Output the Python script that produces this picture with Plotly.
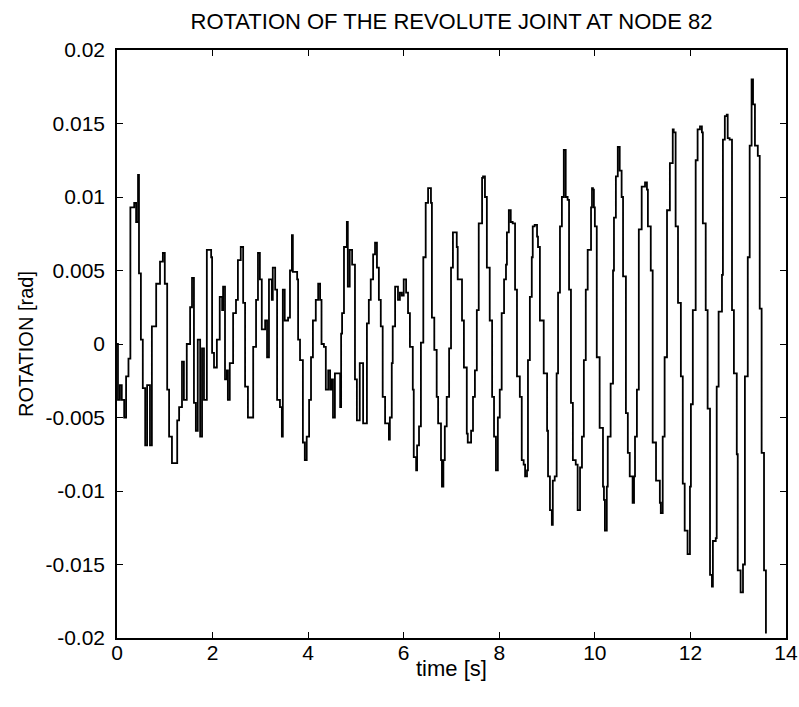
import plotly.graph_objects as go

time_s = [
    0.00, 0.02, 0.06, 0.10, 0.15, 0.19, 0.24, 0.28, 0.36, 0.40, 0.44, 0.46, 0.50, 0.54, 0.59, 0.63,
    0.69, 0.73, 0.82, 0.90, 0.96, 1.00, 1.05, 1.09, 1.15, 1.21, 1.26, 1.30, 1.36, 1.40, 1.46, 1.53,
    1.57, 1.61, 1.65, 1.69, 1.74, 1.78, 1.82, 1.88, 1.97, 1.99, 2.03, 2.09, 2.15, 2.20, 2.22, 2.26,
    2.30, 2.32, 2.36, 2.43, 2.49, 2.53, 2.59, 2.64, 2.68, 2.74, 2.80, 2.85, 2.91, 2.95, 2.99, 3.03,
    3.10, 3.14, 3.18, 3.24, 3.26, 3.31, 3.35, 3.41, 3.45, 3.47, 3.51, 3.58, 3.62, 3.66, 3.68, 3.77,
    3.79, 3.83, 3.89, 3.93, 3.97, 4.02, 4.06, 4.10, 4.16, 4.21, 4.25, 4.28, 4.33, 4.37, 4.42, 4.46,
    4.49, 4.52, 4.56, 4.67, 4.69, 4.71, 4.75, 4.81, 4.83, 4.87, 4.92, 4.98, 5.02, 5.08, 5.15, 5.23,
    5.27, 5.31, 5.36, 5.40, 5.44, 5.48, 5.52, 5.56, 5.61, 5.69, 5.71, 5.75, 5.77, 5.82, 5.88, 5.92,
    5.96, 6.00, 6.05, 6.09, 6.13, 6.19, 6.21, 6.26, 6.28, 6.32, 6.36, 6.41, 6.46, 6.51, 6.57, 6.59,
    6.64, 6.69, 6.72, 6.78, 6.80, 6.83, 6.86, 6.90, 6.95, 6.99, 7.03, 7.07, 7.11, 7.13, 7.22, 7.26,
    7.32, 7.34, 7.41, 7.45, 7.49, 7.53, 7.57, 7.64, 7.66, 7.70, 7.74, 7.80, 7.85, 7.89, 7.93, 7.95,
    7.97, 8.01, 8.05, 8.10, 8.14, 8.16, 8.20, 8.24, 8.28, 8.33, 8.37, 8.43, 8.47, 8.51, 8.54, 8.58,
    8.60, 8.64, 8.68, 8.70, 8.74, 8.79, 8.81, 8.85, 8.93, 9.00, 9.02, 9.06, 9.10, 9.12, 9.16, 9.20,
    9.23, 9.27, 9.31, 9.35, 9.39, 9.43, 9.46, 9.50, 9.54, 9.60, 9.64, 9.69, 9.73, 9.77, 9.81, 9.85,
    9.92, 9.94, 9.96, 9.98, 10.00, 10.04, 10.10, 10.17, 10.19, 10.21, 10.25, 10.27, 10.33, 10.38,
    10.40, 10.44, 10.48, 10.52, 10.56, 10.59, 10.65, 10.69, 10.73, 10.79, 10.82, 10.84, 10.88,
    10.92, 10.98, 11.05, 11.09, 11.11, 11.17, 11.21, 11.28, 11.36, 11.38, 11.42, 11.46, 11.51,
    11.57, 11.63, 11.65, 11.69, 11.74, 11.80, 11.84, 11.88, 11.94, 11.99, 12.01, 12.05, 12.11,
    12.15, 12.20, 12.24, 12.26, 12.32, 12.36, 12.41, 12.45, 12.47, 12.53, 12.55, 12.59, 12.66,
    12.68, 12.72, 12.76, 12.78, 12.82, 12.87, 12.91, 12.97, 12.99, 13.05, 13.10, 13.14, 13.20,
    13.24, 13.28, 13.31, 13.35, 13.41, 13.45, 13.49, 13.54, 13.58,
]

rotation_rad = [
    0.0, -0.0038, -0.0028, -0.0038, -0.005, -0.0022, -0.001, 0.0093, 0.0096, 0.0083, 0.0115, 0.0048, 0.0003, -0.003, -0.0069, -0.0028,
    -0.0069, 0.0012, 0.0041, 0.0056, 0.0062, 0.0041, -0.0031, -0.0063, -0.0081, -0.0081, -0.0052, -0.0043, -0.0012, -0.0038, 0.0, 0.0025,
    0.0045, -0.004, -0.0059, 0.0003, -0.0063, -0.0003, -0.0038, 0.0064, 0.0059, -0.0006, -0.0016, 0.0003, 0.0032, 0.0023, 0.0039, -0.0024,
    -0.0018, -0.0038, -0.0013, 0.0021, 0.003, 0.0057, 0.0066, 0.0028, -0.0029, -0.005, -0.005, -0.0002, 0.003, 0.0062, 0.0044, 0.001,
    0.0016, -0.0009, 0.0044, 0.003, 0.0052, 0.0037, -0.0038, -0.0043, -0.0063, 0.0037, 0.0016, 0.0018, 0.005, 0.0074, 0.0049, 0.0044,
    0.0003, -0.0011, -0.0067, -0.0079, -0.0063, -0.0038, -0.0009, 0.0016, 0.003, 0.0041, 0.003, 0.0, -0.0002, -0.0031, -0.0018, -0.0031,
    -0.0024, -0.005, -0.002, -0.0043, 0.0007, 0.0021, 0.0066, 0.0083, 0.0039, 0.0064, 0.0054, -0.0024, -0.0052, -0.0013, -0.0054, 0.0014,
    0.003, 0.0044, 0.0061, 0.0069, 0.0052, 0.003, 0.0012, -0.0036, -0.0054, -0.0065, -0.005, -0.0013, 0.0012, 0.0039, 0.003, 0.0035,
    0.0033, 0.0044, 0.0035, 0.0021, -0.0002, -0.0031, -0.0077, -0.0086, -0.0069, -0.0056, 0.0001, 0.0059, 0.0096, 0.0106, 0.0096, 0.0018,
    -0.0004, -0.0036, -0.0054, -0.0079, -0.0097, -0.0079, -0.0056, -0.0036, -0.0003, 0.0052, 0.0076, 0.0076, 0.0066, 0.0044, 0.0016, -0.0016,
    -0.0061, -0.0067, -0.0059, -0.0036, -0.0018, 0.0023, 0.0082, 0.0113, 0.0114, 0.01, 0.0052, 0.0016, -0.0036, -0.0063, -0.0086, -0.0086,
    -0.005, -0.0031, 0.0021, 0.0044, 0.0054, 0.0076, 0.0091, 0.0083, 0.0082, 0.0037, -0.0022, -0.0036, -0.0079, -0.0082, -0.009, -0.0086,
    -0.0011, 0.0032, 0.0059, 0.008, 0.0081, 0.0073, 0.0066, 0.0016, -0.002, -0.0059, -0.009, -0.0113, -0.0123, -0.0093, -0.009, -0.002,
    0.0035, 0.008, 0.01, 0.0132, 0.01, 0.0098, 0.0037, -0.004, -0.0079, -0.0082, -0.0113, -0.0084, -0.0063, -0.0011, 0.0037, 0.0064,
    0.0093, 0.0106, 0.0105, 0.0093, 0.008, -0.0009, -0.0057, -0.0097, -0.0106, -0.0127, -0.0097, -0.0063, -0.0027, 0.005,
    0.0086, 0.0114, 0.0134, 0.0118, 0.01, 0.0046, -0.0047, -0.0074, -0.009, -0.0108, -0.009, -0.0063, -0.0031,
    0.0078, 0.0107, 0.011, 0.0105, 0.008, 0.005, -0.0067, -0.0093, -0.0108, -0.0115, -0.0063, -0.0009, 0.0091,
    0.0123, 0.0146, 0.0144, 0.008, 0.0028, -0.0022, -0.0095, -0.0127, -0.0143, -0.0097, -0.0041, 0.0023, 0.0125,
    0.0146, 0.0148, 0.0144, 0.0082, 0.0023, -0.0044, -0.0157, -0.0165, -0.0134, -0.0132, -0.0029, 0.0022, 0.0047,
    0.0139, 0.0155, 0.0156, 0.014, 0.0139, 0.0023, -0.002, -0.0075, -0.0154, -0.0169, -0.015, -0.0022, 0.0059,
    0.0135, 0.018, 0.0163, 0.0135, 0.0128, 0.0024, -0.0074, -0.0154, -0.0197,
]

x_tickvals = [0, 2, 4, 6, 8, 10, 12, 14]
x_ticktext = ["0", "2", "4", "6", "8", "10", "12", "14"]
y_tickvals = [0.02, 0.015, 0.01, 0.005, 0, -0.005, -0.01, -0.015, -0.02]
y_ticktext = ["0.02", "0.015", "0.01", "0.005", "0", "-0.005", "-0.01", "-0.015", "-0.02"]

title_text = "ROTATION OF THE REVOLUTE JOINT AT NODE 82"
x_label = "time [s]"
y_label = "ROTATION [rad]"

FONT = "Liberation Sans, Arial, sans-serif"
FIG_W, FIG_H = 799, 707

fig = go.Figure()
fig.add_trace(go.Scatter(
    x=time_s, y=rotation_rad, mode="lines",
    line=dict(color="black", width=1.8, shape="hv"),
    showlegend=False,
))

axis_common = dict(
    showline=True, linecolor="black", linewidth=1.5, mirror="ticks",
    ticks="inside", ticklen=6, tickwidth=1.2, tickcolor="black",
    showgrid=False, zeroline=False,
    tickfont=dict(family=FONT, size=21, color="black"),
)

fig.update_layout(
    width=FIG_W, height=FIG_H,
    margin=dict(l=117, r=13, t=50, b=69, autoexpand=False),
    paper_bgcolor="white", plot_bgcolor="white",
    title=dict(text=title_text, x=0.5, xref="paper", xanchor="center",
               y=1 - 21 / FIG_H, yref="container", yanchor="middle",
               font=dict(family=FONT, size=22, color="black")),
    xaxis=dict(range=[0, 14], tickvals=x_tickvals, ticktext=x_ticktext,
               ticklabelstandoff=-5, **axis_common),
    yaxis=dict(range=[-0.02, 0.02], tickvals=y_tickvals, ticktext=y_ticktext,
               ticklabelstandoff=6, **axis_common),
    annotations=[
        dict(text=x_label, xref="paper", yref="paper", x=0.5, y=0, yshift=-30,
             xanchor="center", yanchor="middle", showarrow=False,
             font=dict(family=FONT, size=22, color="black")),
        dict(text=y_label, xref="paper", yref="paper", x=0, y=0.5, xshift=-91,
             xanchor="center", yanchor="middle", textangle=-90, showarrow=False,
             font=dict(family=FONT, size=20, color="black")),
    ],
)

fig.write_html(
    "out.html",
    config={"displayModeBar": False},
    post_script="document.body.style.margin='0';document.body.style.overflow='hidden';",
)
